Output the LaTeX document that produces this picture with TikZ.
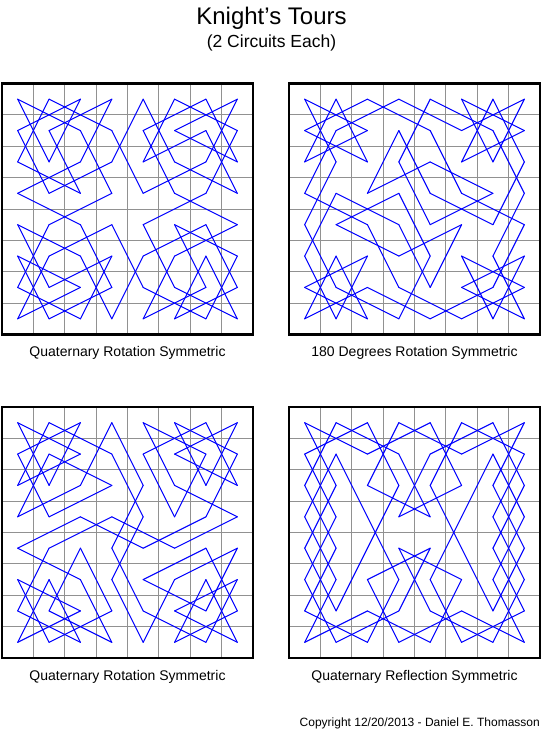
\documentclass[tikz,border=0pt]{standalone}
\usepackage{fontspec}
\setmainfont{Liberation Sans}
\definecolor{tourblue}{RGB}{0,0,255}
\definecolor{gridgray}{RGB}{145,145,145}
\newcommand{\kgrid}{%
  \foreach \gi in {-3,...,3} {\draw[gridline] (\gi,-4) -- (\gi,4); \draw[gridline] (-4,\gi) -- (4,\gi);}}
\newcommand{\kframe}{\draw[frame] (-4,-4) rectangle (4,4);}
\newcommand{\kedges}[1]{\foreach \pa/\pb/\pc/\pd in {#1} {\draw[tour] (\pa-3.5,\pb-3.5) -- (\pc-3.5,\pd-3.5);}}
\begin{document}
\begin{tikzpicture}[x=1pt,y=-1pt,
  tour/.style={draw=tourblue, line width=1.05pt, line cap=round},
  gridline/.style={draw=gridgray, line width=0.9pt},
  frame/.style={draw=black, line width=2.4pt},
  title/.style={font=\fontsize{24}{27}\selectfont},
  subtitle/.style={font=\fontsize{17.5}{20}\selectfont},
  caption/.style={font=\fontsize{14}{16}\selectfont},
  credit/.style={font=\fontsize{12}{14}\selectfont, anchor=east, inner sep=0pt}]
\useasboundingbox (0,0) rectangle (543,735);

\node[title] (t1) at (271.5,18) {Knight’s Tours};
\node[subtitle] (t2) at (271.5,43) {(2 Circuits Each)};

% Board 1: quaternary rotation symmetric
\begin{scope}[shift={(127.5,209)}, x=31.375pt, y=-31.375pt]
  \kgrid
  \foreach \rot in {0,90,180,270} {
    \begin{scope}[rotate=\rot]
      \kedges{0/0/1/2, 0/0/2/1, 1/0/0/2, 1/0/3/1, 2/0/1/2, 2/0/0/1, 3/0/1/1, 3/0/2/2,
              0/1/1/3, 1/1/2/3, 2/1/3/3, 0/2/2/3, 2/2/0/3, 3/2/1/3, 3/1/4/3, 3/2/4/0}
    \end{scope}}
  \kframe
\end{scope}

% Board 2: 180 degrees rotation symmetric
\begin{scope}[shift={(414.5,209)}, x=31.375pt, y=-31.375pt]
  \kgrid
  \foreach \rot in {0,180} {
    \begin{scope}[rotate=\rot]
      \kedges{0/0/1/2, 0/0/2/1, 1/0/0/2, 1/0/2/2, 2/0/0/1, 2/0/4/1, 3/0/1/1, 3/0/5/1,
              4/0/6/1, 4/0/3/2, 5/0/7/1, 5/0/6/2, 6/0/5/2, 6/0/7/2, 7/0/5/1, 7/0/6/2,
              0/1/2/2, 1/1/0/3, 2/1/0/2, 3/1/2/3, 3/1/4/3, 4/1/5/3, 6/1/7/3, 7/1/5/2,
              4/2/2/3, 4/2/6/3, 0/3/2/4, 1/3/0/5, 1/3/3/4, 3/3/1/4, 3/3/4/5, 7/3/6/5}
    \end{scope}}
  \kframe
\end{scope}

% Board 3: quaternary rotation symmetric
\begin{scope}[shift={(127.5,532.5)}, x=31.375pt, y=-31.375pt]
  \kgrid
  \foreach \rot in {0,90,180,270} {
    \begin{scope}[rotate=\rot]
      \kedges{0/0/1/2, 0/0/2/1, 1/0/0/2, 1/0/3/1, 2/0/0/1, 2/0/1/2, 3/0/2/2, 0/1/1/3,
              1/1/3/2, 1/1/0/3, 2/1/0/2, 2/2/0/3, 3/2/1/3, 3/0/4/2, 3/1/4/3, 2/3/4/4}
    \end{scope}}
  \kframe
\end{scope}

% Board 4: quaternary reflection symmetric
\begin{scope}[shift={(414.5,532.5)}, x=31.375pt, y=-31.375pt]
  \kgrid
  \foreach \sx/\sy in {1/1,-1/1,1/-1,-1/-1} {
    \begin{scope}[xscale=\sx, yscale=\sy]
      \kedges{0/0/1/2, 0/0/2/1, 1/0/0/2, 1/0/3/1, 2/0/0/1, 2/0/3/2, 3/0/2/2, 0/1/1/3,
              1/1/2/3, 1/1/0/3, 3/0/5/1, 3/1/4/3, 2/2/4/3, 0/2/1/4, 1/2/0/4, 3/2/2/4}
    \end{scope}}
  \kframe
\end{scope}

\node[caption] (c1) at (127.5,353) {Quaternary Rotation Symmetric};
\node[caption] (c2) at (414.5,353) {180 Degrees Rotation Symmetric};
\node[caption] (c3) at (127.5,677) {Quaternary Rotation Symmetric};
\node[caption] (c4) at (414.5,677) {Quaternary Reflection Symmetric};
\node[credit] (cr) at (540,723) {Copyright 12/20/2013 - Daniel E. Thomasson};
\end{tikzpicture}
\end{document}
